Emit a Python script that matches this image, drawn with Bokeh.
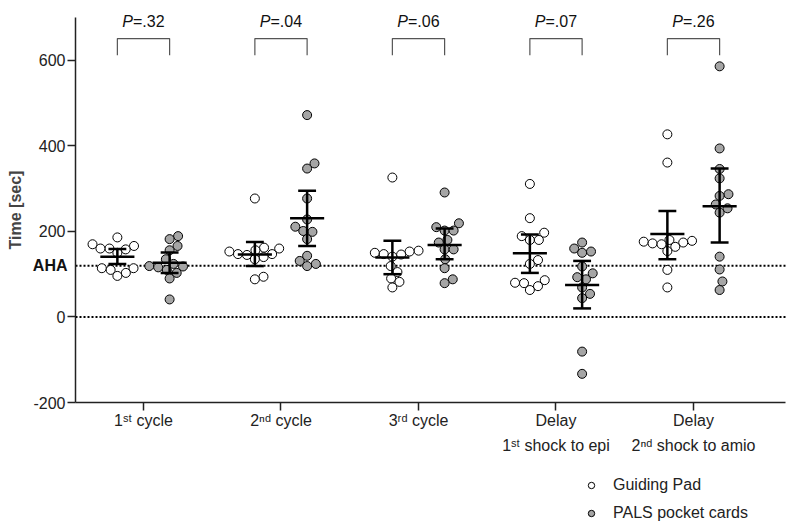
import numpy as np
from bokeh.plotting import figure
from bokeh.models import (Range1d, FixedTicker, Label, LabelSet, ColumnDataSource,
                          Legend, LegendItem)
from bokeh.core.properties import value
from bokeh.embed import file_html
from bokeh.resources import INLINE

# ---------------- data ----------------
categories = ["1ˢᵗ cycle", "2ⁿᵈ cycle", "3ʳᵈ cycle",
              "Delay\n1ˢᵗ shock to epi", "Delay\n2ⁿᵈ shock to amio"]
series_names = ["Guiding Pad", "PALS pocket cards"]
p_values = ["=.32", "=.04", "=.06", "=.07", "=.26"]

guiding_pad = [
    [186, 170, 166, 160, 160, 158, 150, 114, 114, 110, 103, 96],
    [277, 162, 160, 156, 153, 147, 147, 145, 140, 135, 94, 88],
    [326, 155, 153, 150, 147, 146, 141, 119, 105, 90, 82, 69],
    [311, 231, 197, 180, 180, 189, 133, 124, 80, 86, 72, 79, 63],
    [427, 361, 180, 178, 176, 174, 172, 170, 164, 154, 110, 69],
]
pals_cards = [
    [189, 182, 166, 156, 135, 124, 119, 118, 116, 110, 103, 90, 41],
    [472, 359, 347, 277, 228, 211, 201, 199, 182, 143, 131, 124, 119],
    [291, 219, 210, 202, 202, 180, 174, 158, 158, 135, 114, 88, 79],
    [174, 160, 153, 150, 118, 102, 93, 88, 69, 54, 44, -81, -133],
    [586, 394, 346, 324, 287, 283, 263, 254, 244, 141, 111, 83, 63],
]
gp_mean = [141, 146, 139, 149, 194]
gp_lo = [124, 119, 100, 103, 135]
gp_hi = [159, 175, 178, 193, 248]
pc_mean = [127, 231, 168, 75, 259]
pc_lo = [103, 166, 135, 20, 174]
pc_hi = [151, 295, 207, 131, 347]
aha_value = 120
y_ticks = [-200, 0, 200, 400, 600]

# ---------------- layout constants ----------------
FONT = "Liberation Sans"
OFF = 0.19          # series offset within a category (x units)
MEAN_HW = 0.124     # half width of mean bar
CAP_HW = 0.065      # half width of CI caps
DOT = 9.0           # marker diameter (px)
W, H = 796, 527     # whole canvas is the frame; axes use fixed locations
XS = 137.5          # px per category unit
YS = 0.4277         # px per second
AX_X0, AX_X1 = 0.5055, 5.669     # x-axis extent (data)
AX_Y0, AX_Y1 = -200, 700         # y-axis extent (data)
X0 = AX_X0 - 75 / XS
X1 = X0 + W / XS
Y1 = AX_Y0 + 402 / YS
Y0 = Y1 - H / YS


def swarm(vals, d=DOT):
    vals = np.asarray(vals, dtype=float)
    order = np.argsort(vals)
    placed = []
    xs = np.zeros(len(vals))
    for i in order:
        y = vals[i] * YS
        cands = [0.0]
        for (px, py) in placed:
            dy = abs(py - y)
            if dy < d:
                dx = np.sqrt(d * d - dy * dy)
                cands += [px + dx, px - dx]
        cands.sort(key=abs)
        for c in cands:
            if all((c - px) ** 2 + (y - py) ** 2 >= d * d - 1e-6 for px, py in placed):
                xs[i] = c
                placed.append((c, y))
                break
    return xs / XS


p = figure(frame_width=W, frame_height=H, x_range=Range1d(X0, X1),
           y_range=Range1d(Y0, Y1), output_backend="svg", toolbar_location=None,
           min_border=0)
p.outline_line_color = None
p.grid.visible = False
p.background_fill_color = "white"

centers = np.arange(1, len(categories) + 1)

# reference lines (dotted)
p.segment(x0=[AX_X0, AX_X0], y0=[0, aha_value], x1=[AX_X1, AX_X1], y1=[0, aha_value],
          line_color="black", line_width=2, line_dash="2 2")

gx, gy, px_, py_ = [], [], [], []
for k, c in enumerate(centers):
    gx += list(c - OFF + swarm(guiding_pad[k]))
    gy += guiding_pad[k]
    px_ += list(c + OFF + swarm(pals_cards[k]))
    py_ += pals_cards[k]

r_gp = p.scatter(gx, gy, size=DOT, fill_color="white", line_color="black", line_width=1)
r_pc = p.scatter(px_, py_, size=DOT, fill_color="#a5a5a5", line_color="black", line_width=1)

# mean + CI bars
for xpos, mean, lo, hi in ((centers - OFF, gp_mean, gp_lo, gp_hi),
                           (centers + OFF, pc_mean, pc_lo, pc_hi)):
    mean, lo, hi = map(np.asarray, (mean, lo, hi))
    p.segment(xpos - MEAN_HW, mean, xpos + MEAN_HW, mean, line_color="black", line_width=2.5)
    p.segment(xpos, lo, xpos, hi, line_color="black", line_width=2.5)
    p.segment(xpos - CAP_HW, lo, xpos + CAP_HW, lo, line_color="black", line_width=2.5)
    p.segment(xpos - CAP_HW, hi, xpos + CAP_HW, hi, line_color="black", line_width=2.5)

# significance brackets
bxs = [[c - OFF, c - OFF, c + OFF, c + OFF] for c in centers]
bys = [[612, 651, 651, 612] for _ in centers]
p.multi_line(bxs, bys, line_color="#555555", line_width=1.2)

src = ColumnDataSource(dict(x=centers, y=[690] * len(centers), t=p_values,
                            pp=["P"] * len(centers)))
p.add_layout(LabelSet(x="x", y="y", text="pp", source=src, x_offset=-10.5,
                      text_align="right", text_baseline="middle", text_font=value(FONT),
                      text_font_style="italic", text_font_size="16px", text_color="#111111"))
p.add_layout(LabelSet(x="x", y="y", text="t", source=src, x_offset=-10.5,
                      text_align="left", text_baseline="middle", text_font=value(FONT),
                      text_font_size="16px", text_color="#111111"))

p.add_layout(Label(x=AX_X0, y=aha_value, x_offset=-8, text="AHA", text_align="right",
                   text_baseline="middle", text_font=FONT, text_font_style="bold",
                   text_font_size="16px", text_color="#111111"))

# axes drawn at fixed data locations inside the canvas
p.yaxis.fixed_location = AX_X0
p.xaxis.fixed_location = AX_Y0
p.yaxis.ticker = FixedTicker(ticks=y_ticks)
p.yaxis.bounds = (AX_Y0, AX_Y1)
p.yaxis.major_label_overrides = {t: str(t) for t in y_ticks}
p.xaxis.ticker = FixedTicker(ticks=list(centers))
p.xaxis.bounds = (AX_X0, AX_X1)
p.xaxis.major_label_overrides = {int(c): lab for c, lab in zip(centers, categories)}
for ax in (p.xaxis[0], p.yaxis[0]):
    ax.axis_line_width = 1.5
    ax.axis_line_color = "#222222"
    ax.major_tick_line_color = "#222222"
    ax.major_tick_line_width = 1.5
    ax.major_tick_out = 8
    ax.major_tick_in = 0
    ax.minor_tick_line_color = None
    ax.major_label_text_font = FONT
    ax.major_label_text_font_size = "16px"
    ax.major_label_text_color = "#222222"
p.xaxis.major_label_text_line_height = 1.5
p.xaxis.major_label_standoff = 1
p.yaxis.major_label_standoff = 2
p.yaxis.axis_label = "Time [sec]"
p.yaxis.axis_label_text_font = FONT
p.yaxis.axis_label_text_font_style = "bold"
p.yaxis.axis_label_text_font_size = "16px"
p.yaxis.axis_label_standoff = 6

legend = Legend(items=[LegendItem(label=series_names[0], renderers=[r_gp]),
                       LegendItem(label=series_names[1], renderers=[r_pc])],
                location=(583, 5), padding=0, margin=0, spacing=10,
                glyph_width=16, glyph_height=16, label_height=16, label_standoff=14,
                label_text_font=FONT, label_text_font_size="16px",
                label_text_color="#222222", border_line_color=None,
                background_fill_alpha=0)
p.add_layout(legend)

open("out.html", "w").write(file_html(p, INLINE))
